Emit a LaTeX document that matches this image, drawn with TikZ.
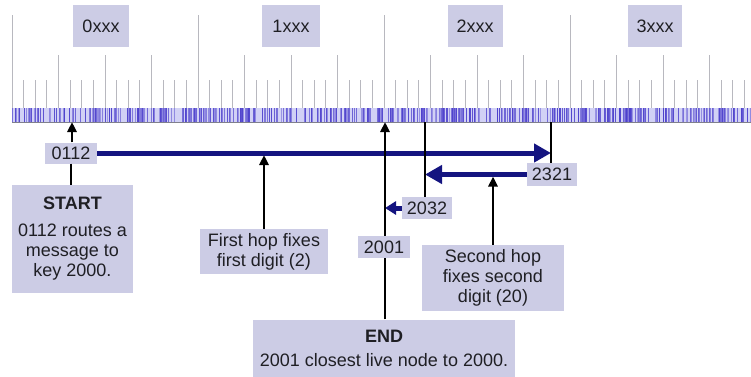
\documentclass[tikz,border=0pt]{standalone}
\usepackage{fontspec}
\setmainfont{Liberation Sans}
\usepackage{tikz}
\usetikzlibrary{arrows.meta}

\begin{document}
\begin{tikzpicture}[x=1pt,y=-1pt,
  tag/.style={fill=cbox,inner sep=0pt,text=ctxt,font=\fontsize{18}{20}\selectfont},
  note/.style={tag,align=center},
  ptr/.style={line width=2.5pt,-{Triangle[width=9pt,length=10pt]}},
  wire/.style={line width=2.5pt},
  hop/.style={line width=5pt,color=chop,-{Triangle[width=18pt,length=17pt]}},
  shorthop/.style={hop,-{Triangle[width=13pt,length=11pt]}}]
%
\useasboundingbox (0,0) rectangle (751,376);
%
\definecolor{cbox}{rgb}{0.8,0.8,0.9}
\definecolor{ctxt}{rgb}{0.12,0.12,0.14}
\definecolor{chop}{rgb}{0.08,0.08,0.5}
\definecolor{cband}{rgb}{0.82,0.82,0.96}
\definecolor{ckey}{rgb}{0.3,0.25,0.8}
\definecolor{ctick}{rgb}{0.72,0.72,0.75}
\definecolor{cline}{rgb}{0.5,0.5,0.55}
%
% ruler ticks: 16 per leading digit
\foreach \i in {0,...,63}{
  \pgfmathsetmacro{\tx}{12+11.625*\i}
  \pgfmathsetmacro{\ty}{mod(\i,16)==0 ? 15 : (mod(\i,4)==0 ? 55 : 80)}
  \draw[ctick,line width=0.8pt] (\tx,\ty) -- (\tx,108);
}
%
% band of live node ids
\fill[cband] (12,108) rectangle (751,122);
\pgfmathsetseed{17}
\foreach \i in {1,...,560}{
  \pgfmathsetmacro{\kx}{12+739*rnd}
  \pgfmathtruncatemacro{\kc}{40+60*rnd}
  \draw[ckey!\kc!cband,line width=0.7pt] (\kx,108) -- (\kx,122);
}
\draw[cline,line width=1pt] (12,122) -- (751,122);
%
\node[tag,minimum width=56pt,minimum height=42pt] (r0) at (101,26) {0xxx};
\node[tag,minimum width=58pt,minimum height=42pt] (r1) at (291,26) {1xxx};
\node[tag,minimum width=55pt,minimum height=42pt] (r2) at (475,26) {2xxx};
\node[tag,minimum width=54pt,minimum height=42pt] (r3) at (655,26) {3xxx};
%
\coordinate (k0112) at (72,122);
\coordinate (k2001) at (385,122);
\coordinate (k2032) at (425,122);
\coordinate (k2321) at (551,122);
%
\node[tag,minimum width=52pt,minimum height=21pt] (n0112) at (71,153) {0112};
\node[tag,minimum width=50pt,minimum height=23pt] (n2321) at (552,174.5) {2321};
\node[tag,minimum width=50pt,minimum height=22pt] (n2032) at (427,208) {2032};
%
\node[note,minimum width=121pt,minimum height=108pt] (start) at (72.5,239)
  {\textbf{START}\\[7pt] 0112 routes a\\ message to\\ key 2000.};
\node[note,minimum width=128pt,minimum height=45pt] (hop1) at (264,251.5)
  {First hop fixes\\ first digit (2)};
\node[note,minimum width=142pt,minimum height=66pt] (hop2) at (493,278)
  {Second hop\\ fixes second\\ digit (20)};
\node[note,minimum width=262pt,minimum height=57pt] (end) at (384,348)
  {\textbf{END}\\[4pt] 2001 closest live node to 2000.};
%
\draw[ptr] (k0112 |- n0112.north) -- (k0112);
\draw[wire] (n0112.south) -- (n0112.south |- start.north);
\draw[hop] (n0112.east) -- (n0112.east -| k2321);
\draw[wire] (k2321) -- (k2321 |- n2321.north);
\draw[hop] (n2321.west) -- (n2321.west -| k2032);
\draw[wire] (k2032) -- (k2032 |- n2032.north);
\draw[shorthop] (n2032.west) -- (n2032.west -| k2001);
\draw[ptr] (k2001 |- end.north) -- (k2001);
\draw[ptr,shorten >=2pt] (hop1.north) -- (hop1.north |- n0112.east);
\draw[ptr,shorten >=2pt] (hop2.north) -- (hop2.north |- n2321.west);
%
\node[tag,minimum width=52pt,minimum height=22pt] (n2001) at (384,247) {2001};
%
\end{tikzpicture}
\end{document}
